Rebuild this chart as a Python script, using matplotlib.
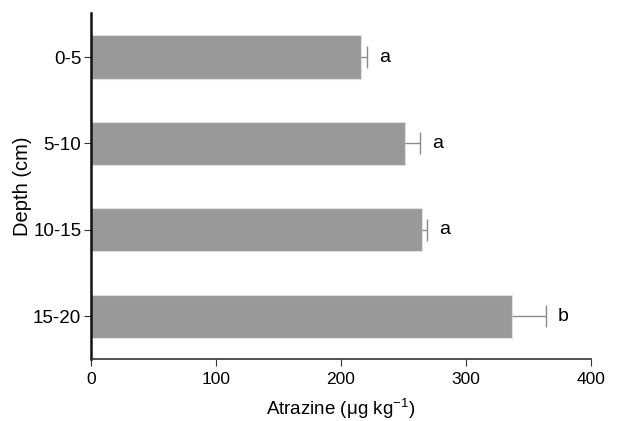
import matplotlib
matplotlib.use("Agg")
import matplotlib.pyplot as plt

plt.rcParams['font.family'] = ['Liberation Sans', 'DejaVu Sans']
plt.rcParams['mathtext.fontset'] = 'custom'
plt.rcParams['mathtext.rm'] = 'Liberation Sans'

# data
depths = ["0-5", "5-10", "10-15", "15-20"]
atrazine = [216, 251, 265, 337]
errors = [5, 12, 4, 27]
letters = ["a", "a", "a", "b"]

fig = plt.figure(figsize=(6.26, 4.21), dpi=100)
ax = fig.add_axes([0.1454, 0.1466, 0.7986, 0.8224])

ypos = list(range(len(depths)))
ax.barh(ypos, atrazine, height=0.5, color="#999999", edgecolor="#e0e0e0", linewidth=0.8)

# one-sided error bars (only the upper side is drawn in the original)
err_ends = [v + e for v, e in zip(atrazine, errors)]
ax.hlines(ypos, atrazine, err_ends, color="#8a8a8a", linewidth=1.0)
ax.plot(err_ends, ypos, linestyle="none", marker="|", markersize=16,
        markeredgewidth=1.0, color="#8a8a8a")

for y, end, lab in zip(ypos, err_ends, letters):
    ax.text(end + 14, y, lab, ha="center", va="center", fontsize=14)

ax.set_yticks(ypos)
ax.set_yticklabels(depths, fontsize=13.5)
ax.set_ylim(3.5, -0.51)
ax.set_xlim(0, 400)
ax.set_xticks([0, 100, 200, 300, 400])
ax.tick_params(axis="x", labelsize=12.5, direction="out", length=5, width=0.8,
               color="#333333", pad=4)
ax.tick_params(axis="y", direction="out", length=5, width=0.8, color="#333333", pad=2)

ax.spines["top"].set_visible(False)
ax.spines["right"].set_visible(False)
ax.spines["left"].set_linewidth(1.8)
ax.spines["left"].set_color("#111111")
ax.spines["bottom"].set_linewidth(1.2)
ax.spines["bottom"].set_color("#333333")

ax.set_xlabel("Atrazine (μg kg$^{-1}$)", fontsize=13.5, labelpad=7)
ax.set_ylabel("Depth (cm)", fontsize=14.5, labelpad=1)

fig.savefig("out.png", dpi=100)
